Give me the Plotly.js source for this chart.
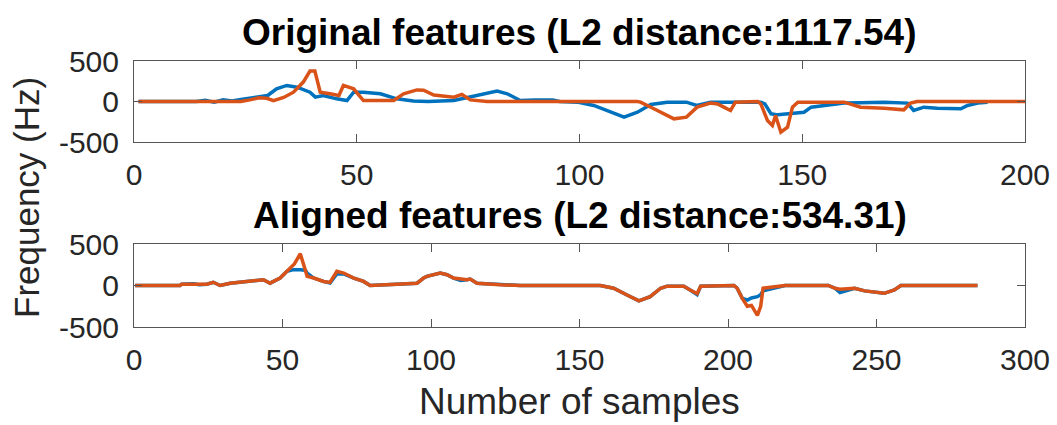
<!DOCTYPE html>
<html>
<head>
<meta charset="utf-8">
<script src="https://cdn.plot.ly/plotly-3.0.1.min.js"></script>
<style>html,body{margin:0;padding:0;background:#fff;}#chart{width:1057px;height:425px;}</style>
</head>
<body>
<div id="chart"></div>
<script>
// ---- Data ----
const origBlueX = [1, 14, 16, 18, 20, 22, 24, 27, 30, 32, 34.3, 36.6, 39.5, 40.7, 42.5, 45.5, 47.8, 49.3, 51.5, 55.3, 59, 62.7, 66, 71.8, 77, 81.5, 83.8, 86.7, 90, 94, 95.5, 99.5, 103.2, 106.2, 110, 113, 116, 119.7, 124, 126.3, 129.4, 135, 140.7, 141.6, 143, 144.5, 147.4, 150.4, 152, 155.6, 159.4, 163, 168.4, 173.6, 175, 177.3, 180.3, 185.6, 187.1, 189.4, 191.6];
const origBlueY = [0, 0, 15, -10, 20, 5, 25, 45, 74, 157, 198, 177, 115, 54, 74, 33, 12, 115, 115, 95, 33, 5, 0, 12, 74, 128, 95, 12, 20, 20, 0, -8, -49, -111, -193, -132, -37, -8, -8, -49, -8, -8, -8, -29, -152, -165, -152, -132, -70, -49, -20, -16, -8, -20, -111, -70, -82, -90, -49, -20, -10];

const origOrangeX = [1, 24, 26, 28, 29.8, 31.3, 33.6, 35.8, 38, 39.5, 40.6, 41.8, 44, 46, 47, 49.3, 51.5, 58.3, 60.5, 63.5, 65, 67.3, 71.8, 73.6, 75.5, 79.3, 113, 113.7, 116.7, 121.2, 124, 126.4, 129.4, 131, 132.4, 133.9, 135, 140, 140.7, 142.2, 143.3, 144, 145.2, 146.7, 147.8, 149, 159.4, 163.1, 168.4, 172.8, 174.3, 175.8, 200];
const origOrangeY = [0, 0, 20, 45, 40, 10, 50, 115, 240, 375, 375, 115, 95, 74, 198, 157, 12, 12, 95, 143, 140, 80, 54, 87, 20, 0, 0, -8, -90, -214, -193, -70, -20, -30, -70, -111, -8, 0, -29, -235, -296, -173, -379, -317, -70, -8, -8, -70, -82, -103, -20, 0, 0];

const alignBlueX = [0.4, 15.5, 16, 20, 22, 24.5, 26.7, 29, 32.4, 38, 43.6, 45.8, 49.2, 51.5, 53.7, 56, 57.7, 58.3, 60.5, 63.8, 66, 68.3, 70.6, 74, 77.3, 79.5, 88.5, 95.3, 97.5, 98.6, 103.1, 105.4, 107.6, 110, 112.1, 113.2, 115.5, 123.4, 130, 157, 161.5, 166, 170, 173.8, 177.3, 179.5, 185.1, 187.4, 189.6, 190.8, 197.5, 202, 203.1, 204.8, 206.5, 207.9, 209.9, 211, 211.8, 215.8, 219.2, 233.8, 236, 237.7, 239.5, 242.6, 246, 252.6, 256, 258.2, 284];
const alignBlueY = [0, 0, 15, 20, 10, 15, 39, 0, 28, 49, 69, 28, 90, 171, 191, 191, 185, 150, 90, 49, 30, 140, 140, 90, 49, 0, 16, 28, 90, 110, 150, 130, 90, 60, 69, 77, 28, 8, 0, 0, -33, -114, -185, -135, -33, -8, -8, -57, -110, -8, 0, 0, -33, -155, -175, -150, -135, -110, -65, -30, 0, 0, -33, -86, -65, -33, -65, -94, -53, 0, 0];

const alignOrangeX = [0.4, 15.5, 16, 24.5, 26.7, 29, 32.4, 38, 43.6, 45.8, 49.2, 51.5, 54, 56, 57.7, 58.3, 60.5, 63.8, 66, 68.3, 70.6, 74, 77.3, 79.5, 88.5, 95.3, 97.5, 98.6, 103.1, 105.4, 107.6, 112.1, 113.2, 115.5, 123.4, 130, 157, 161.5, 166, 170, 173.8, 177.3, 179.5, 185.1, 187.4, 189.6, 190.8, 197.5, 202, 203.1, 204.8, 206.5, 207.9, 209.9, 211, 211.8, 215.8, 219.2, 233.8, 236, 237.7, 242.6, 246, 252.6, 256, 258.2, 284];
const alignOrangeY = [0, 0, 15, 15, 39, 0, 28, 49, 69, 28, 90, 171, 260, 383, 200, 110, 90, 49, 37, 171, 150, 90, 49, 0, 16, 28, 90, 110, 150, 130, 90, 69, 77, 28, 8, 0, 0, -33, -114, -185, -135, -33, -8, -8, -57, -98, -8, 0, 0, -33, -155, -250, -240, -359, -250, -33, -10, 0, 0, -33, -45, -33, -65, -94, -53, 0, 0];

const topTicksX = [0, 50, 100, 150, 200];
const botTicksX = [0, 50, 100, 150, 200, 250, 300];
const ticksY = [-500, 0, 500];
const topTitle = 'Original features (L2 distance:1117.54)';
const botTitle = 'Aligned features (L2 distance:534.31)';
const xLabel = 'Number of samples';
const yLabel = 'Frequency (Hz)';

// ---- Plot ----
const BLUE = '#0072BD', ORANGE = '#D95319';
const W = 1057, H = 425;
const FONT = 'Liberation Sans, Arial, Helvetica, sans-serif';
const TXT = '#262626';
const LW = 3.5;

const traces = [
  {x: origBlueX, y: origBlueY, xaxis: 'x', yaxis: 'y', mode: 'lines', line: {color: BLUE, width: LW}},
  {x: origOrangeX, y: origOrangeY, xaxis: 'x', yaxis: 'y', mode: 'lines', line: {color: ORANGE, width: LW}},
  {x: alignBlueX, y: alignBlueY, xaxis: 'x2', yaxis: 'y2', mode: 'lines', line: {color: BLUE, width: LW}},
  {x: alignOrangeX, y: alignOrangeY, xaxis: 'x2', yaxis: 'y2', mode: 'lines', line: {color: ORANGE, width: LW}}
];

const xDom = [134 / W, 1025 / W];
function ax(extra) {
  return Object.assign({
    showline: true, linecolor: '#555', linewidth: 1, mirror: 'ticks',
    ticks: 'inside', ticklen: 8, tickcolor: '#555', tickwidth: 1,
    showgrid: false, zeroline: false, fixedrange: true,
    tickfont: {family: FONT, size: 30, color: TXT}
  }, extra);
}

const layout = {
  width: W, height: H,
  margin: {l: 0, r: 0, t: 0, b: 0},
  paper_bgcolor: '#fff', plot_bgcolor: '#fff',
  showlegend: false,
  xaxis: ax({domain: xDom, range: [0, 200], tickvals: topTicksX, ticktext: topTicksX.map(String), anchor: 'y', ticklabelstandoff: 6}),
  yaxis: ax({domain: [1 - 142 / H, 1 - 61 / H], range: [-500, 500], tickvals: ticksY, ticktext: ticksY.map(String), anchor: 'x', ticklabelstandoff: 8}),
  xaxis2: ax({domain: xDom, range: [0, 300], tickvals: botTicksX, ticktext: botTicksX.map(String), anchor: 'y2', ticklabelstandoff: 6}),
  yaxis2: ax({domain: [1 - 327 / H, 1 - 244 / H], range: [-500, 500], tickvals: ticksY, ticktext: ticksY.map(String), anchor: 'x2', ticklabelstandoff: 8}),
  annotations: [
    {text: '<b>' + topTitle + '</b>', xref: 'paper', yref: 'paper', x: 579.5 / W, y: 1 - 33 / H, xanchor: 'center', yanchor: 'middle', showarrow: false, font: {family: FONT, size: 37, color: '#000'}},
    {text: '<b>' + botTitle + '</b>', xref: 'paper', yref: 'paper', x: 579.5 / W, y: 1 - 216 / H, xanchor: 'center', yanchor: 'middle', showarrow: false, font: {family: FONT, size: 37, color: '#000'}},
    {text: xLabel, xref: 'paper', yref: 'paper', x: 579.5 / W, y: 1 - 401 / H, xanchor: 'center', yanchor: 'middle', showarrow: false, font: {family: FONT, size: 37, color: TXT}},
    {text: yLabel, xref: 'paper', yref: 'paper', x: 27 / W, y: 1 - 198 / H, xanchor: 'center', yanchor: 'middle', textangle: -90, showarrow: false, font: {family: FONT, size: 35, color: TXT}}
  ]
};

Plotly.newPlot('chart', traces, layout, {displayModeBar: false, staticPlot: true});
</script>
</body>
</html>
